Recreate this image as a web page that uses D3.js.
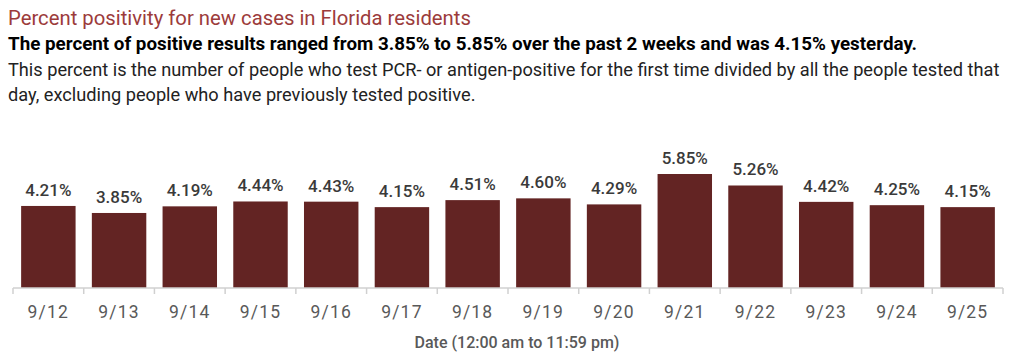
<!DOCTYPE html>
<html>
<head>
<meta charset="utf-8">
<script src="https://cdn.jsdelivr.net/npm/d3@7"></script>
<style>
  body { margin: 0; background: #fff; }
  text { font-family: "Roboto", "Liberation Sans", sans-serif; }
</style>
</head>
<body>
<script>
var w = 1016; // Width of the page
var h = 362;  // Height of the page

// Data
var dates = ["9/12", "9/13", "9/14", "9/15", "9/16", "9/17", "9/18",
             "9/19", "9/20", "9/21", "9/22", "9/23", "9/24", "9/25"];
var positivity = [4.21, 3.85, 4.19, 4.44, 4.43, 4.15, 4.51,
                  4.60, 4.29, 5.85, 5.26, 4.42, 4.25, 4.15];

var titleText = "Percent positivity for new cases in Florida residents";
var subtitleText = "The percent of positive results ranged from 3.85% to 5.85% over the past 2 weeks and was 4.15% yesterday.";
var noteLines = [
    "This percent is the number of people who test PCR- or antigen-positive for the first time divided by all the people tested that",
    "day, excluding people who have previously tested positive."
];
var axisTitle = "Date (12:00 am to 11:59 pm)";

var barColor = "#632423";
var baseY = 288; // Bottom of the bars

// Scales
var xScale = d3.scaleBand()
    .domain(dates)
    .range([13, 1003])
    .paddingInner(0.23)
    .paddingOuter(0.115);

var yScale = d3.scaleLinear()
    .domain([0, 5.85])
    .range([baseY, 174]);

var svg = d3.select("body")
    .append("svg")
    .attr("width", w)
    .attr("height", h);

// Header texts
svg.append("text")
    .attr("x", 8)
    .attr("y", 25)
    .attr("fill", "#9c3b3b")
    .style("font-size", "20.3px")
    .text(titleText);

svg.append("text")
    .attr("x", 8)
    .attr("y", 50)
    .attr("fill", "#000")
    .style("font-size", "18.8px")
    .style("font-weight", "bold")
    .text(subtitleText);

svg.selectAll(".note")
    .data(noteLines)
    .join("text")
    .attr("class", "note")
    .attr("x", 8)
    .attr("y", function(d, i) { return 76 + i * 25; })
    .attr("fill", "#222")
    .style("font-size", "18.2px")
    .text(function(d) { return d; });

// Bars
svg.selectAll("rect.bar")
    .data(positivity)
    .join("rect")
    .attr("class", "bar")
    .attr("x", function(d, i) { return xScale(dates[i]); })
    .attr("y", function(d) { return yScale(d); })
    .attr("width", xScale.bandwidth())
    .attr("height", function(d) { return baseY - yScale(d); })
    .attr("fill", barColor);

// Value labels above bars
svg.selectAll("text.value")
    .data(positivity)
    .join("text")
    .attr("class", "value")
    .attr("x", function(d, i) { return xScale(dates[i]) + xScale.bandwidth() / 2; })
    .attr("y", function(d) { return yScale(d) - 10; })
    .attr("text-anchor", "middle")
    .attr("fill", "#3a3a3a")
    .style("font-size", "17px")
    .style("font-weight", "500")
    .text(function(d) { return d.toFixed(2) + "%"; });

// X axis: line with ticks between the bands
var axis = svg.append("g")
    .attr("class", "x-axis")
    .attr("transform", "translate(0," + baseY + ")");

axis.append("line")
    .attr("x1", 13)
    .attr("x2", 1003)
    .attr("stroke", "#d0d0d0")
    .attr("stroke-width", 1.5);

var step = xScale.step();
var bounds = d3.range(dates.length + 1).map(function(i) { return 13 + i * step; });

axis.selectAll("line.tick")
    .data(bounds)
    .join("line")
    .attr("class", "tick")
    .attr("x1", function(d) { return d; })
    .attr("x2", function(d) { return d; })
    .attr("y1", 0)
    .attr("y2", 6)
    .attr("stroke", "#d0d0d0")
    .attr("stroke-width", 1.5);

axis.selectAll("text.tick-label")
    .data(dates)
    .join("text")
    .attr("class", "tick-label")
    .attr("x", function(d) { return xScale(d) + xScale.bandwidth() / 2; })
    .attr("y", 30)
    .attr("text-anchor", "middle")
    .attr("fill", "#595959")
    .style("font-size", "17.5px")
    .style("letter-spacing", "1.2px")
    .text(function(d) { return d; });

// Axis title
svg.append("text")
    .attr("x", 517)
    .attr("y", 348)
    .attr("text-anchor", "middle")
    .attr("fill", "#595959")
    .style("font-size", "16px")
    .style("font-weight", "500")
    .text(axisTitle);
</script>
</body>
</html>
